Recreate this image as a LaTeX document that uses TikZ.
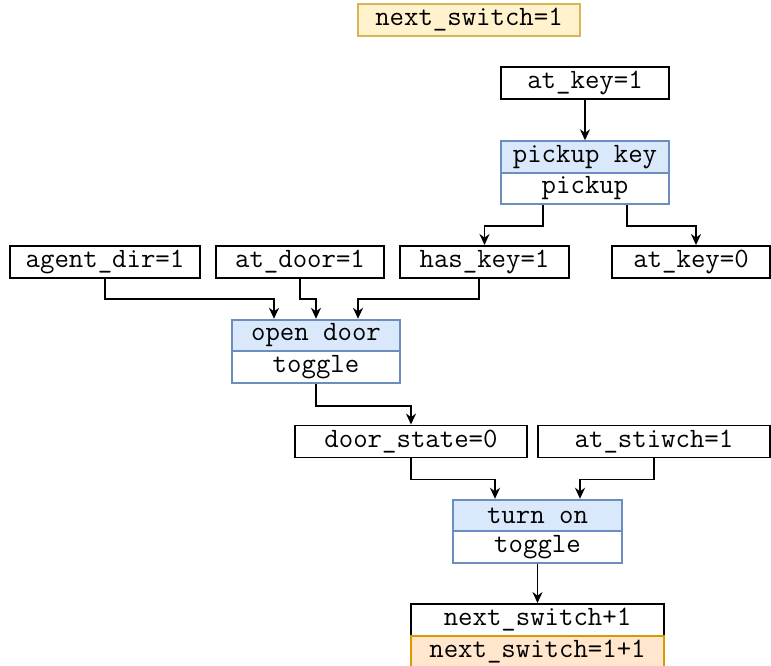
\documentclass[tikz,border=0pt]{standalone}
\usepackage{fontspec}
\usetikzlibrary{arrows.meta, positioning}

\begin{document}
\begin{tikzpicture}[x=1pt,y=-1pt,
    every node/.style={font=\ttfamily\fontsize{28}{28}\selectfont, inner sep=0pt},
    fact/.style={draw=black, fill=white, line width=1.9pt, minimum height=32pt},
    acthead/.style={draw=actborder, fill=actfill, line width=1.9pt, minimum height=31.5pt},
    actbody/.style={draw=actborder, fill=white, line width=1.9pt, minimum height=31.5pt},
    link/.style={draw=black, line width=1.9pt, -{Stealth[length=11pt,width=10pt]}}]
  \definecolor{actfill}{HTML}{DAE8FC}
  \definecolor{actborder}{HTML}{6C8EBF}
  \definecolor{goalfill}{HTML}{FFF2CC}
  \definecolor{goalborder}{HTML}{D6B656}
  \definecolor{effectfill}{HTML}{FFE6CC}
  \definecolor{effectborder}{HTML}{D79B00}
  \useasboundingbox (0,0) rectangle (771,666);

  % goal
  \node[fact, draw=goalborder, fill=goalfill, minimum width=222pt] (goal) at (469,20) {next\_switch=1};

  % pickup key
  \node[fact, minimum width=168pt] (atkey) at (585,83) {at\_key=1};
  \node[acthead, minimum width=168pt] (pickhd) at (585,157) {pickup key};
  \node[actbody, minimum width=168pt, below=-1.9pt of pickhd] (pickbd) {pickup};
  \node[fact, minimum width=169pt] (haskey) at (484.5,262) {has\_key=1};
  \node[fact, minimum width=158pt] (atkeyoff) at (691,262) {at\_key=0};

  % open door
  \node[fact, minimum width=190pt] (agentdir) at (105,262) {agent\_dir=1};
  \node[fact, minimum width=168pt] (atdoor) at (300,262) {at\_door=1};
  \node[acthead, minimum width=168pt] (doorhd) at (316,335.5) {open door};
  \node[actbody, minimum width=168pt, below=-1.9pt of doorhd] (doorbd) {toggle};
  \node[fact, minimum width=232pt] (doorstate) at (411,441.5) {door\_state=0};

  % turn on
  \node[fact, minimum width=232pt] (atswitch) at (654,441.5) {at\_stiwch=1};
  \node[acthead, minimum width=169pt] (turnhd) at (537.5,515.5) {turn on};
  \node[actbody, minimum width=169pt, below=-1.9pt of turnhd] (turnbd) {toggle};
  \node[fact, minimum width=253pt] (nextsw) at (537.5,620) {next\_switch+1};
  \node[fact, draw=effectborder, fill=effectfill, minimum width=253pt, below=-1.9pt of nextsw] (nextval) {next\_switch=1+1};

  \draw[link] (atkey) -- (pickhd);
  \draw[link] ([xshift=-42pt]pickbd.south) -- ++(0,21) -| (haskey.north);
  \draw[link] ([xshift=42pt]pickbd.south) -- ++(0,21) -| ([xshift=5pt]atkeyoff.north);
  \draw[link] (agentdir.south) -- ++(0,20) -| ([xshift=-42pt]doorhd.north);
  \draw[link] (atdoor.south) -- ++(0,20) -| (doorhd.north);
  \draw[link] ([xshift=-5.5pt]haskey.south) -- ++(0,20) -| ([xshift=42pt]doorhd.north);
  \draw[link] (doorbd.south) -- ++(0,22) -| (doorstate.north);
  \draw[link] (doorstate.south) -- ++(0,21) -| ([xshift=-42.5pt]turnhd.north);
  \draw[link] (atswitch.south) -- ++(0,21) -| ([xshift=42.5pt]turnhd.north);
  \draw[link] (turnbd) -- (nextsw);
\end{tikzpicture}
\end{document}
